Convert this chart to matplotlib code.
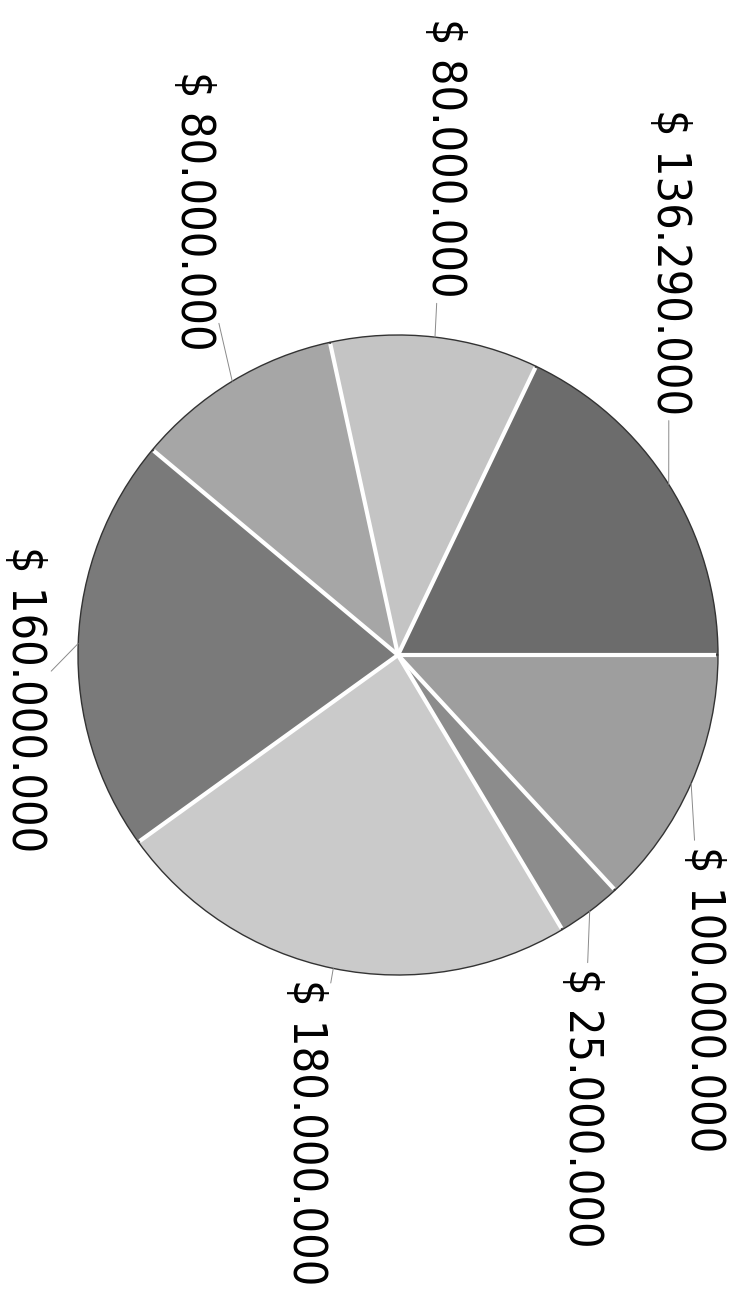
import matplotlib.pyplot as plt
import numpy as np

# valores del grafico (pesos)
valores = [136290000, 80000000, 80000000, 160000000, 180000000, 25000000, 100000000]
etiquetas = ['$ 136.290.000', '$ 80.000.000', '$ 80.000.000', '$ 160.000.000',
             '$ 180.000.000', '$ 25.000.000', '$ 100.000.000']
colores = ['#6c6c6c', '#c4c4c4', '#a6a6a6', '#7a7a7a', '#cacaca', '#8c8c8c', '#9e9e9e']

# centro y radio del pie en pixeles de la imagen
CX, CY, R = 398, 655, 320
W, H = 735, 1293

# posicion de cada etiqueta (pixeles, centro del texto)
pos_etiq = [(669, 262), (444, 158), (193, 211), (24, 699), (305, 1132), (582, 1108), (704, 999)]


def px2data(px, py):
    return (px - CX) / R, (CY - py) / R


fig = plt.figure(figsize=(W / 100, H / 100), dpi=100)
ax = fig.add_axes([0, 0, 1, 1])

wedges, _ = ax.pie(valores, colors=colores, startangle=0, counterclock=True,
                   radius=1, wedgeprops=dict(edgecolor='#333333', linewidth=1))

# separadores blancos entre porciones
for w in wedges:
    t = np.deg2rad(w.theta1)
    ax.plot([0, 0.995 * np.cos(t)], [0, 0.995 * np.sin(t)], color='white', lw=3,
            solid_capstyle='butt', zorder=3)

for w, txt, (px, py) in zip(wedges, etiquetas, pos_etiq):
    mid = np.deg2rad((w.theta1 + w.theta2) / 2)
    ax.annotate(txt, xy=(np.cos(mid), np.sin(mid)), xytext=px2data(px, py),
                ha='center', va='center', rotation=-90, fontsize=33.5,
                family='DejaVu Sans', fontstretch='condensed', color='black',
                arrowprops=dict(arrowstyle='-', color='#8a8a8a', lw=0.7,
                                shrinkA=2, shrinkB=0), zorder=4)

ax.set_xlim(-CX / R, (W - CX) / R)
ax.set_ylim(-(H - CY) / R, CY / R)
ax.set_aspect('equal')
ax.axis('off')

fig.savefig('out.png', dpi=100)
